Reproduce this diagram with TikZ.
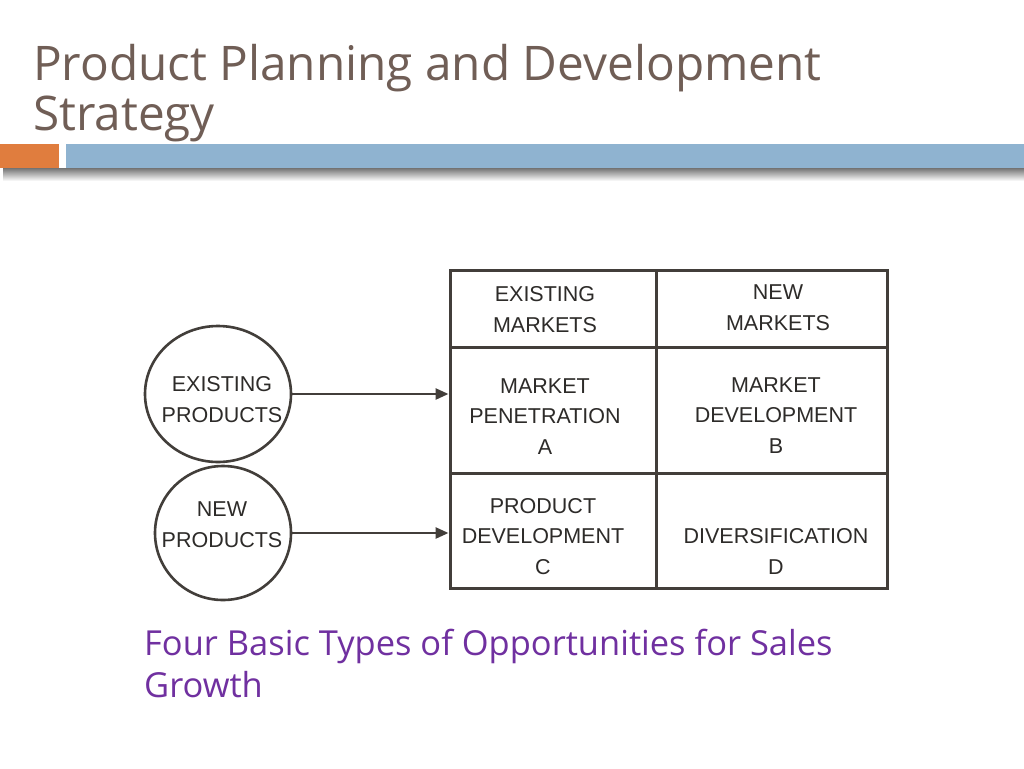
\documentclass[tikz,border=0pt]{standalone}
\usepackage{fontspec}
\setmainfont{Open Sans}
\newfontfamily\helv{Liberation Sans}
\usetikzlibrary{arrows.meta,shapes.geometric}
\definecolor{titlec}{RGB}{112,94,86}
\definecolor{capc}{RGB}{112,48,160}
\definecolor{orangec}{RGB}{224,125,62}
\definecolor{bluec}{RGB}{143,179,208}
\definecolor{inkc}{RGB}{66,62,58}
\definecolor{txtc}{RGB}{45,43,41}
\tikzset{
  cell/.style={draw=inkc, line width=3pt, minimum height=#1, inner sep=0pt},
  circ/.style={ellipse, draw=inkc, line width=2.6pt, inner sep=0pt},
  lbl/.style={anchor=base, align=center, inner sep=0pt, text=txtc,
    font=\helv\fontsize{21.5}{30.5}\selectfont},
  arr/.style={draw=inkc, line width=2.6pt, -{Triangle[length=13pt,width=11pt]}},
  titletext/.style={anchor=base west, inner sep=0pt, text=titlec,
    font=\fontsize{47.7}{50}\selectfont},
  captext/.style={anchor=base west, inner sep=0pt, text=capc,
    font=\fontsize{34.45}{42}\selectfont}
}
\begin{document}
\begin{tikzpicture}[x=1pt,y=-1pt]
\useasboundingbox[fill=white] (0,0) rectangle (1024,768);
% title
\node[titletext] (t1) at (33,80) {Product Planning and Development};
\node[titletext] (t2) at (33,130) {Strategy};
% bar with shadow
\shade[top color=black!55, bottom color=white] (3,168) rectangle (1024,181);
\fill[orangec] (0,144) rectangle (59,168);
\fill[bluec] (66,144) rectangle (1024,168);
% grid cells
\node[cell=77pt, minimum width=206pt] (h1) at (553,308.5) {};
\node[cell=77pt, minimum width=231pt] (h2) at (771.5,308.5) {};
\node[cell=126pt, minimum width=206pt] (a) at (553,410) {};
\node[cell=126pt, minimum width=231pt] (b) at (771.5,410) {};
\node[cell=115pt, minimum width=206pt] (c) at (553,530.5) {};
\node[cell=115pt, minimum width=231pt] (d) at (771.5,530.5) {};
% cell labels (anchor = baseline of last line)
\node[lbl] (lh1) at (545,332) {EXISTING\\MARKETS};
\node[lbl] (lh2) at (778,330) {NEW\\MARKETS};
\node[lbl] (la) at (545,454) {MARKET\\PENETRATION\\A};
\node[lbl] (lb) at (776,453) {MARKET\\DEVELOPMENT\\B};
\node[lbl] (lc) at (543,574) {PRODUCT\\DEVELOPMENT\\C};
\node[lbl] (ld) at (776,574) {DIVERSIFICATION\\D};
% circles
\node[circ, minimum width=146pt, minimum height=136pt] (c1) at (218,394) {};
\node[circ, minimum width=136pt, minimum height=134pt] (c2) at (223,533) {};
\node[lbl] (lc1) at (222,422) {EXISTING\\PRODUCTS};
\node[lbl] (lc2) at (222,547) {NEW\\PRODUCTS};
% arrows
\draw[arr] (c1.east) -- (c1.east -| a.west);
\draw[arr] (c2.east) -- (c2.east -| c.west);
% caption
\node[captext] (cap1) at (144,655) {Four Basic Types of Opportunities for Sales};
\node[captext] (cap2) at (144,697) {Growth};
\end{tikzpicture}
\end{document}
